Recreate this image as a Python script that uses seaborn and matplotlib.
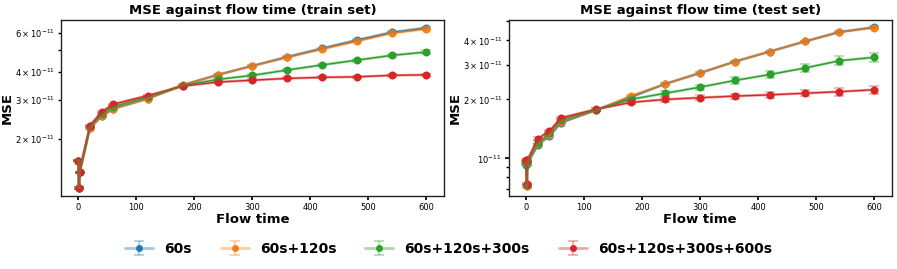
import numpy as np
import pandas as pd
import seaborn as sns
import matplotlib.pyplot as plt
from matplotlib.lines import Line2D

# flow times (three evaluations near t=0)
flow_time = [0, 1, 2, 20, 40, 60, 120, 180, 240, 300, 360, 420, 480, 540, 600]
labels = ["60s", "60s+120s", "60s+120s+300s", "60s+120s+300s+600s"]

# MSE values in units of 1e-11
train_mse = {
    "60s": [1.59, 1.20, 1.41, 2.24, 2.52, 2.73, 3.03, 3.49, 3.88, 4.26, 4.68, 5.11, 5.57, 6.04, 6.33],
    "60s+120s": [1.59, 1.20, 1.41, 2.24, 2.52, 2.73, 3.03, 3.49, 3.88, 4.26, 4.65, 5.07, 5.50, 5.98, 6.25],
    "60s+120s+300s": [1.59, 1.20, 1.41, 2.27, 2.58, 2.79, 3.08, 3.47, 3.70, 3.86, 4.08, 4.30, 4.52, 4.75, 4.92],
    "60s+120s+300s+600s": [1.59, 1.20, 1.41, 2.29, 2.64, 2.86, 3.13, 3.45, 3.60, 3.67, 3.74, 3.78, 3.80, 3.86, 3.88],
}
train_err = {
    "60s": [0.01, 0.01, 0.01, 0.02, 0.02, 0.02, 0.02, 0.02, 0.03, 0.03, 0.04, 0.04, 0.05, 0.05, 0.06],
    "60s+120s": [0.01, 0.01, 0.01, 0.02, 0.02, 0.02, 0.02, 0.02, 0.03, 0.03, 0.04, 0.04, 0.05, 0.05, 0.06],
    "60s+120s+300s": [0.01, 0.01, 0.01, 0.02, 0.02, 0.02, 0.02, 0.03, 0.04, 0.05, 0.05, 0.06, 0.07, 0.08, 0.09],
    "60s+120s+300s+600s": [0.01, 0.01, 0.01, 0.02, 0.02, 0.02, 0.02, 0.03, 0.03, 0.04, 0.04, 0.04, 0.05, 0.05, 0.05],
}
test_mse = {
    "60s": [0.93, 0.72, 0.94, 1.17, 1.30, 1.52, 1.76, 2.05, 2.40, 2.73, 3.12, 3.51, 3.95, 4.42, 4.67],
    "60s+120s": [0.95, 0.72, 0.95, 1.18, 1.31, 1.54, 1.76, 2.08, 2.40, 2.73, 3.12, 3.51, 3.95, 4.40, 4.65],
    "60s+120s+300s": [0.96, 0.73, 0.96, 1.20, 1.34, 1.57, 1.77, 2.00, 2.15, 2.31, 2.50, 2.68, 2.89, 3.15, 3.28],
    "60s+120s+300s+600s": [0.98, 0.74, 0.98, 1.26, 1.38, 1.61, 1.78, 1.93, 2.00, 2.04, 2.08, 2.11, 2.15, 2.19, 2.24],
}
test_err = {
    "60s": [0.01, 0.01, 0.01, 0.01, 0.01, 0.01, 0.01, 0.02, 0.02, 0.03, 0.03, 0.03, 0.04, 0.04, 0.05],
    "60s+120s": [0.01, 0.01, 0.01, 0.01, 0.01, 0.01, 0.01, 0.02, 0.02, 0.03, 0.03, 0.03, 0.04, 0.04, 0.05],
    "60s+120s+300s": [0.01, 0.01, 0.01, 0.02, 0.02, 0.02, 0.03, 0.04, 0.06, 0.07, 0.10, 0.12, 0.14, 0.17, 0.18],
    "60s+120s+300s+600s": [0.01, 0.01, 0.01, 0.02, 0.02, 0.02, 0.03, 0.04, 0.05, 0.06, 0.06, 0.07, 0.08, 0.10, 0.11],
}

sns.set_theme(style="ticks", rc={
    "axes.grid": False, "axes.edgecolor": "#222222", "text.color": "black",
    "axes.labelcolor": "black", "xtick.color": "black", "ytick.color": "black",
    "xtick.labelsize": 6, "ytick.labelsize": 6, "axes.linewidth": 1.0,
})
colors = sns.color_palette("tab10", 4)

fig, axes = plt.subplots(1, 2, figsize=(8.97, 2.69), dpi=100)
handles = []
for ax, mse, err, name in [(axes[0], train_mse, train_err, "train"),
                           (axes[1], test_mse, test_err, "test")]:
    for lab, c in zip(labels, colors):
        y = np.array(mse[lab]) * 1e-11
        e = np.array(err[lab]) * 1e-11
        df = pd.DataFrame({"t": flow_time, "mse": y})
        h = ax.errorbar(df["t"], df["mse"], yerr=e, color=c, alpha=0.4,
                        lw=2, capsize=3.5, elinewidth=1.2, capthick=1.2)
        sns.lineplot(data=df, x="t", y="mse", ax=ax, color=c, marker="o",
                     markersize=5.8, markeredgewidth=0, lw=1.0, legend=False,
                     sort=False)
        if name == "train":
            dot = Line2D([], [], color=c, marker="o", markersize=5,
                         markeredgewidth=0, linestyle="none")
            handles.append((h, dot))
    ax.set_yscale("log")
    ax.tick_params(which="both", labelsize=6, length=3, pad=2)
    ax.tick_params(which="minor", length=2)
    ax.set_title(f"MSE against flow time ({name} set)", fontsize=9.5,
                 fontweight="bold", pad=4)
    ax.set_xlabel("Flow time", fontsize=9.5, fontweight="bold", labelpad=1)
    ax.set_ylabel("MSE", fontsize=9.5, fontweight="bold", labelpad=1)

axes[0].set_ylim(1.1e-11, 6.87e-11)
axes[1].set_ylim(6.42e-12, 5.09e-11)
for ax in axes:
    ax.set_xlim(-30, 630)

fig.legend(handles, labels, loc="center", ncol=4, frameon=False,
           prop={"weight": "bold", "size": 10}, bbox_to_anchor=(0.5, 0.074),
           columnspacing=2.1, handletextpad=0.8, handlelength=2)
fig.subplots_adjust(left=0.068, right=0.994, top=0.926, bottom=0.271, wspace=0.17)
fig.savefig("out.png", dpi=100)
